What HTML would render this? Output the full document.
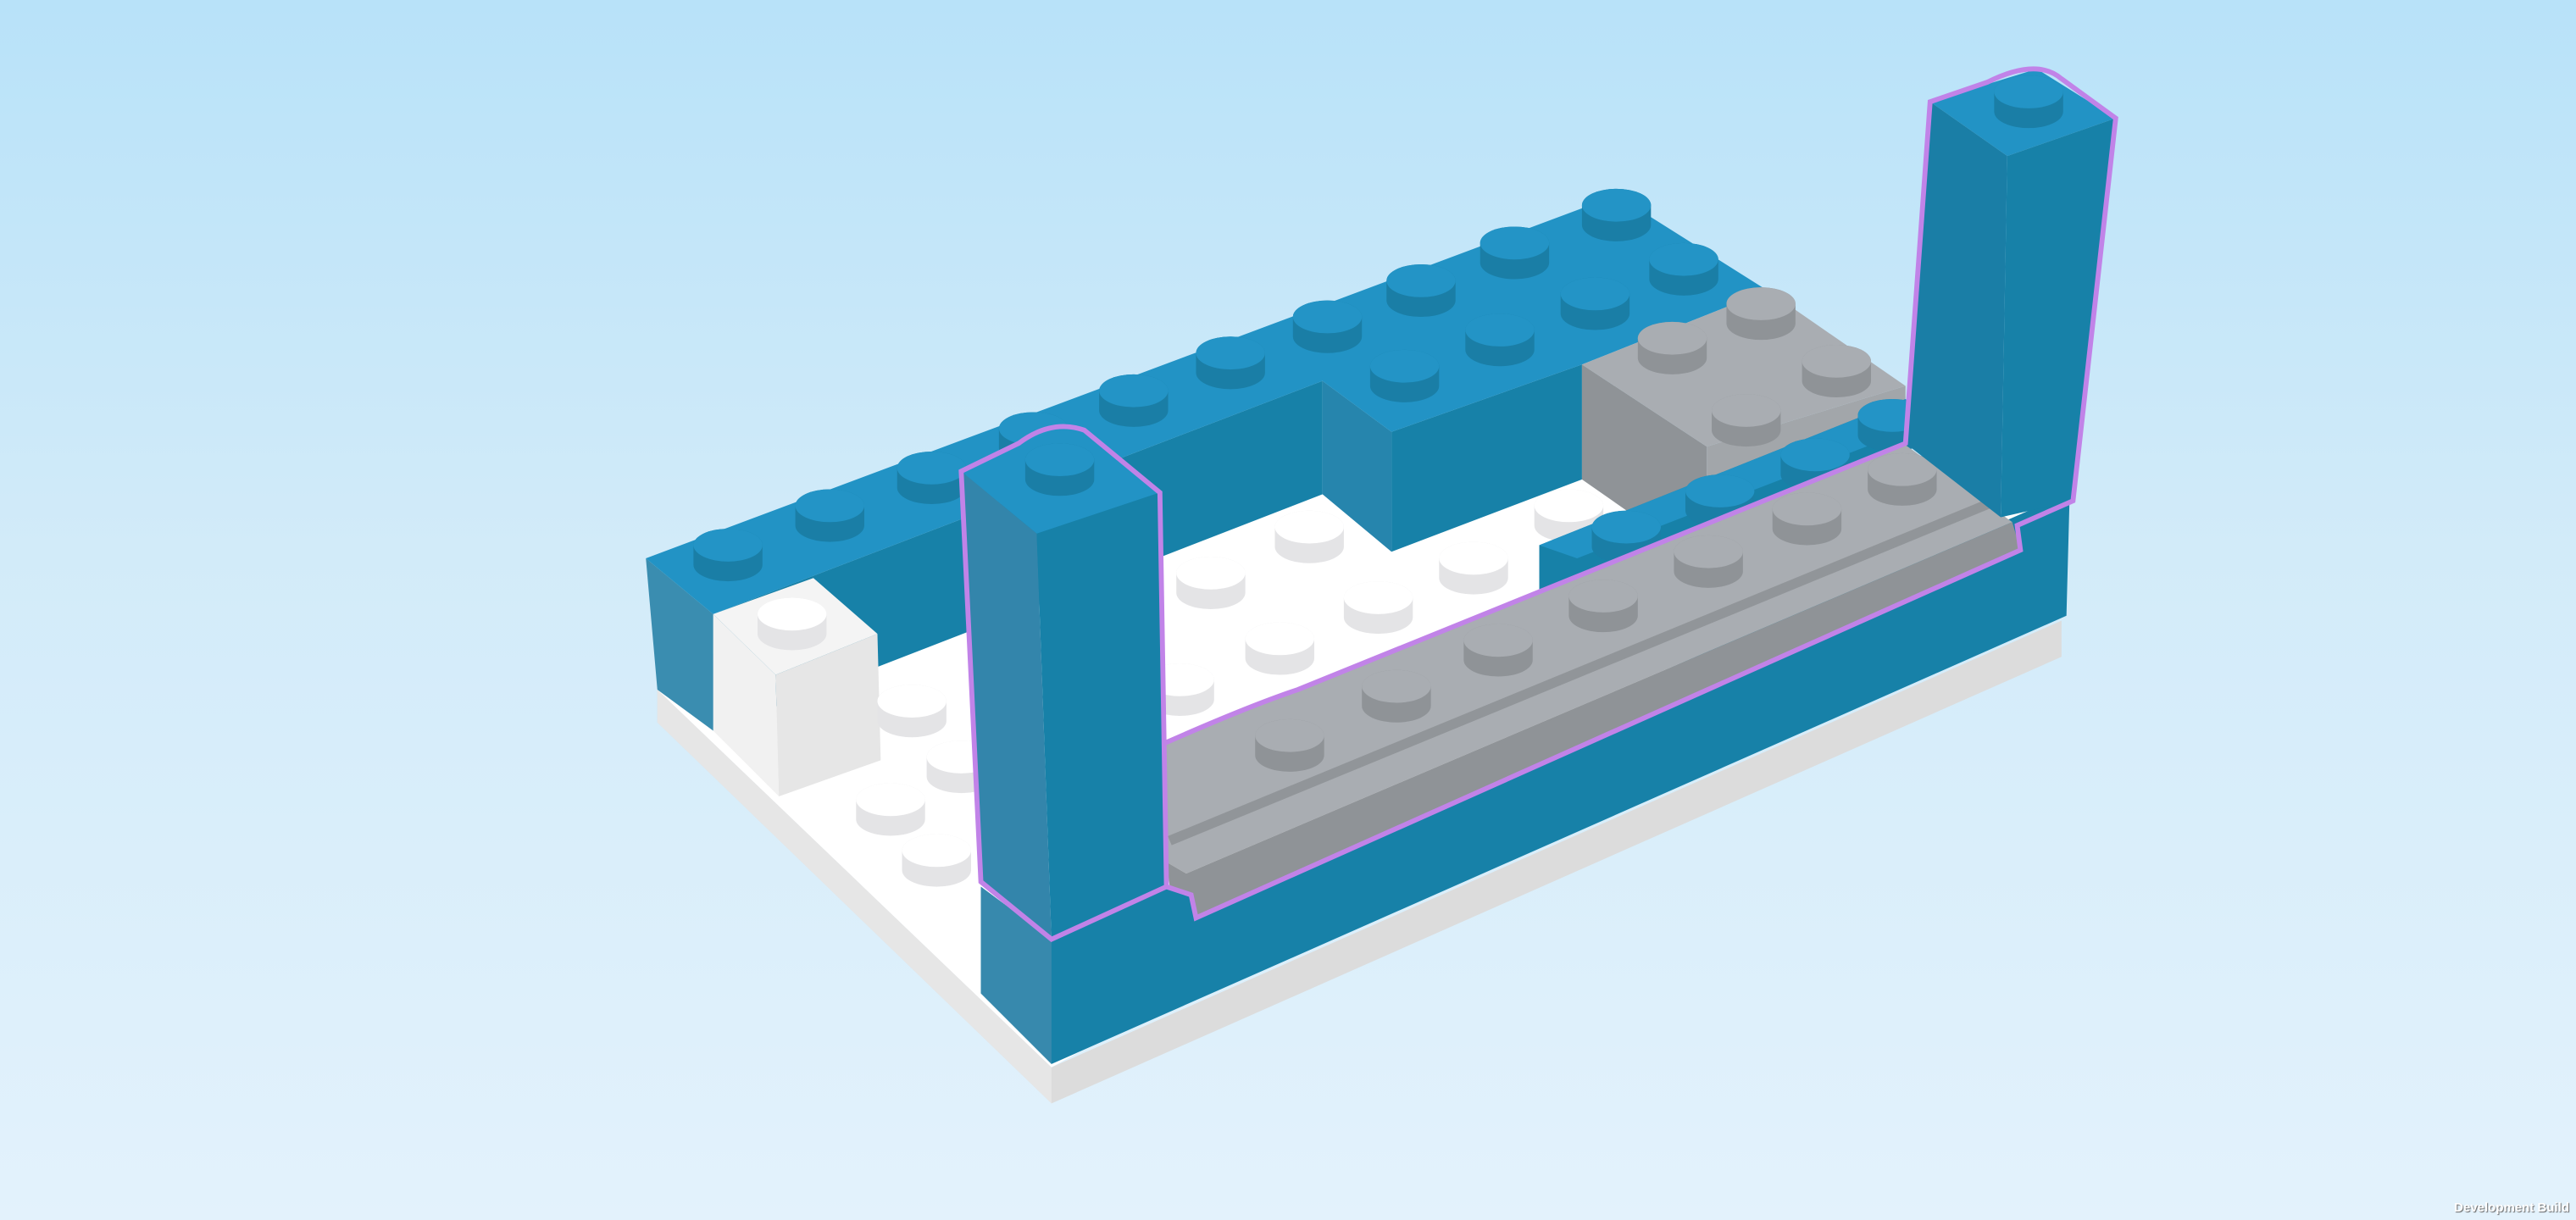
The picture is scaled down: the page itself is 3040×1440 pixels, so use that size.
<!DOCTYPE html>
<html><head><meta charset="utf-8"><style>
html,body{margin:0;padding:0;width:3040px;height:1440px;overflow:hidden}
body{background:linear-gradient(#b8e2f9 0%,#d2ebf9 45%,#e3f2fc 100%)}
svg{position:absolute;left:0;top:0}
.t{position:absolute;right:8px;bottom:6px;font:bold 15px "Liberation Sans",sans-serif;color:#fff;text-shadow:1px 1px 1px #666}
</style></head><body>
<svg width="3040" height="1440" viewBox="0 0 1568 743">
<defs>
<g id="sb"><path d="M-21,0 v-12 a21,10 0 0 1 42,0 v12 a21,10 0 0 1 -42,0z" fill="#1a7ea6"/><ellipse cx="0" cy="-12" rx="21" ry="10" fill="#2394c6"/></g>
<g id="sg"><path d="M-21,0 v-12 a21,10 0 0 1 42,0 v12 a21,10 0 0 1 -42,0z" fill="#8f9397"/><ellipse cx="0" cy="-12" rx="21" ry="10" fill="#a9adb2"/></g>
<g id="sw"><path d="M-21,0 v-12 a21,10 0 0 1 42,0 v12 a21,10 0 0 1 -42,0z" fill="#e4e4e6"/><ellipse cx="0" cy="-12" rx="21" ry="10" fill="#ffffff"/></g>
</defs>
<polygon points="400,420 640,650 1255,378 1255,400 640,672 400,440" fill="#dcdcdc"/>
<polygon points="400,420 640,650 640,672 400,440" fill="#e6e6e6"/>
<polygon points="400,420 434,443 805,301 963,292 1160,290 1255,310 640,650" fill="#ffffff"/>
<use href="#sw" x="797" y="333"/><use href="#sw" x="737" y="361"/><use href="#sw" x="839" y="376"/>
<use href="#sw" x="897" y="352"/><use href="#sw" x="955" y="320"/><use href="#sw" x="779" y="401"/><use href="#sw" x="718" y="426"/>
<polygon points="434,374 805,232 805,301 434,445" fill="#1781a8"/>
<polygon points="393,340 434,374 434,445 400,420" fill="#3a8db0"/>
<polygon points="805,232 847,263 847,336 805,301" fill="#2685ad"/>
<polygon points="847,263 963,222 963,292 847,336" fill="#1781a8"/>
<polygon points="393,340 984,119 1076,177 963,222 847,263 805,232 434,374" fill="#2293c5"/>
<polygon points="963,222 1039,272 1039,345 963,292" fill="#8f9397"/>
<polygon points="1039,272 1160,235 1160,300 1039,345" fill="#a2a6aa"/>
<polygon points="963,222 1076,177 1160,235 1039,272" fill="#a9adb2"/>
<use href="#sb" x="443" y="344"/><use href="#sb" x="505" y="320"/><use href="#sb" x="567" y="297"/><use href="#sb" x="629" y="273"/>
<use href="#sb" x="690" y="250"/><use href="#sb" x="749" y="227"/><use href="#sb" x="808" y="205"/><use href="#sb" x="865" y="183"/>
<use href="#sb" x="922" y="160"/><use href="#sb" x="984" y="137"/>
<use href="#sb" x="855" y="235"/><use href="#sb" x="913" y="213"/><use href="#sb" x="971" y="191"/><use href="#sb" x="1025" y="170"/>
<use href="#sg" x="1018" y="218"/><use href="#sg" x="1072" y="197"/><use href="#sg" x="1118" y="232"/><use href="#sg" x="1063" y="262"/>
<polygon points="434,374 495,352 534,386 472,411" fill="#f4f4f4"/>
<polygon points="434,374 472,411 474,485 434,445" fill="#f1f1f1"/>
<polygon points="472,411 534,386 536,463 474,485" fill="#e6e6e6"/>
<use href="#sw" x="482" y="386"/>
<use href="#sw" x="555" y="439"/><use href="#sw" x="585" y="473"/><use href="#sw" x="542" y="499"/><use href="#sw" x="570" y="530"/>
<polygon points="937,332 1160,243 1160,300 937,365" fill="#1781a8"/>
<polygon points="937,332 1160,243 1180,255 960,340" fill="#2293c5"/>
<use href="#sb" x="990" y="333"/><use href="#sb" x="1047" y="311"/><use href="#sb" x="1105" y="289"/><use href="#sb" x="1152" y="265"/>
<polygon points="597,540 640,572 1260,300 1258,375 640,648 597,605" fill="#1781a8"/>
<polygon points="597,540 640,572 640,648 597,605" fill="#3789ad"/>
<!-- gray rail -->
<polygon points="708,453 1160,271 1225,318 722,532 710,525" fill="#a9adb2"/>
<polygon points="710,525 722,532 1225,318 1230,335 728,559 725,545 712,540" fill="#8f9397"/>
<line x1="712" y1="512" x2="1215" y2="305" stroke="#919599" stroke-width="6"/>
<use href="#sg" x="785" y="460"/><use href="#sg" x="850" y="430"/><use href="#sg" x="912" y="402"/><use href="#sg" x="976" y="375"/>
<use href="#sg" x="1040" y="348"/><use href="#sg" x="1100" y="322"/><use href="#sg" x="1158" y="298"/>
<polygon points="585,287 650,258 706,300 631,325" fill="#2293c5"/>
<polygon points="585,287 631,325 640,572 597,537" fill="#3385ab"/>
<polygon points="631,325 706,300 710,540 640,572" fill="#1781a8"/>
<use href="#sb" x="645" y="292"/>
<polygon points="1175,62 1240,42 1288,72 1222,95" fill="#2293c5"/>
<polygon points="1175,62 1222,95 1218,315 1160,270" fill="#1a7ea6"/>
<polygon points="1222,95 1288,72 1262,305 1218,315" fill="#1781a8"/>
<use href="#sb" x="1235" y="68"/>
<path d="M585,287 L620,270 Q640,255 660,262 L706,300 L710,540 L640,572 L597,537 Z" fill="none" stroke="#c183e8" stroke-width="3"/>
<path d="M708,453 Q760,430 790,420 L1160,270 L1175,62 L1210,50 Q1240,35 1255,48 L1288,72 L1262,305 L1228,320 L1230,335 L728,559 L725,545 L710,540" fill="none" stroke="#c183e8" stroke-width="3"/>
</svg>
<div class="t">Development Build</div>
</body></html>
